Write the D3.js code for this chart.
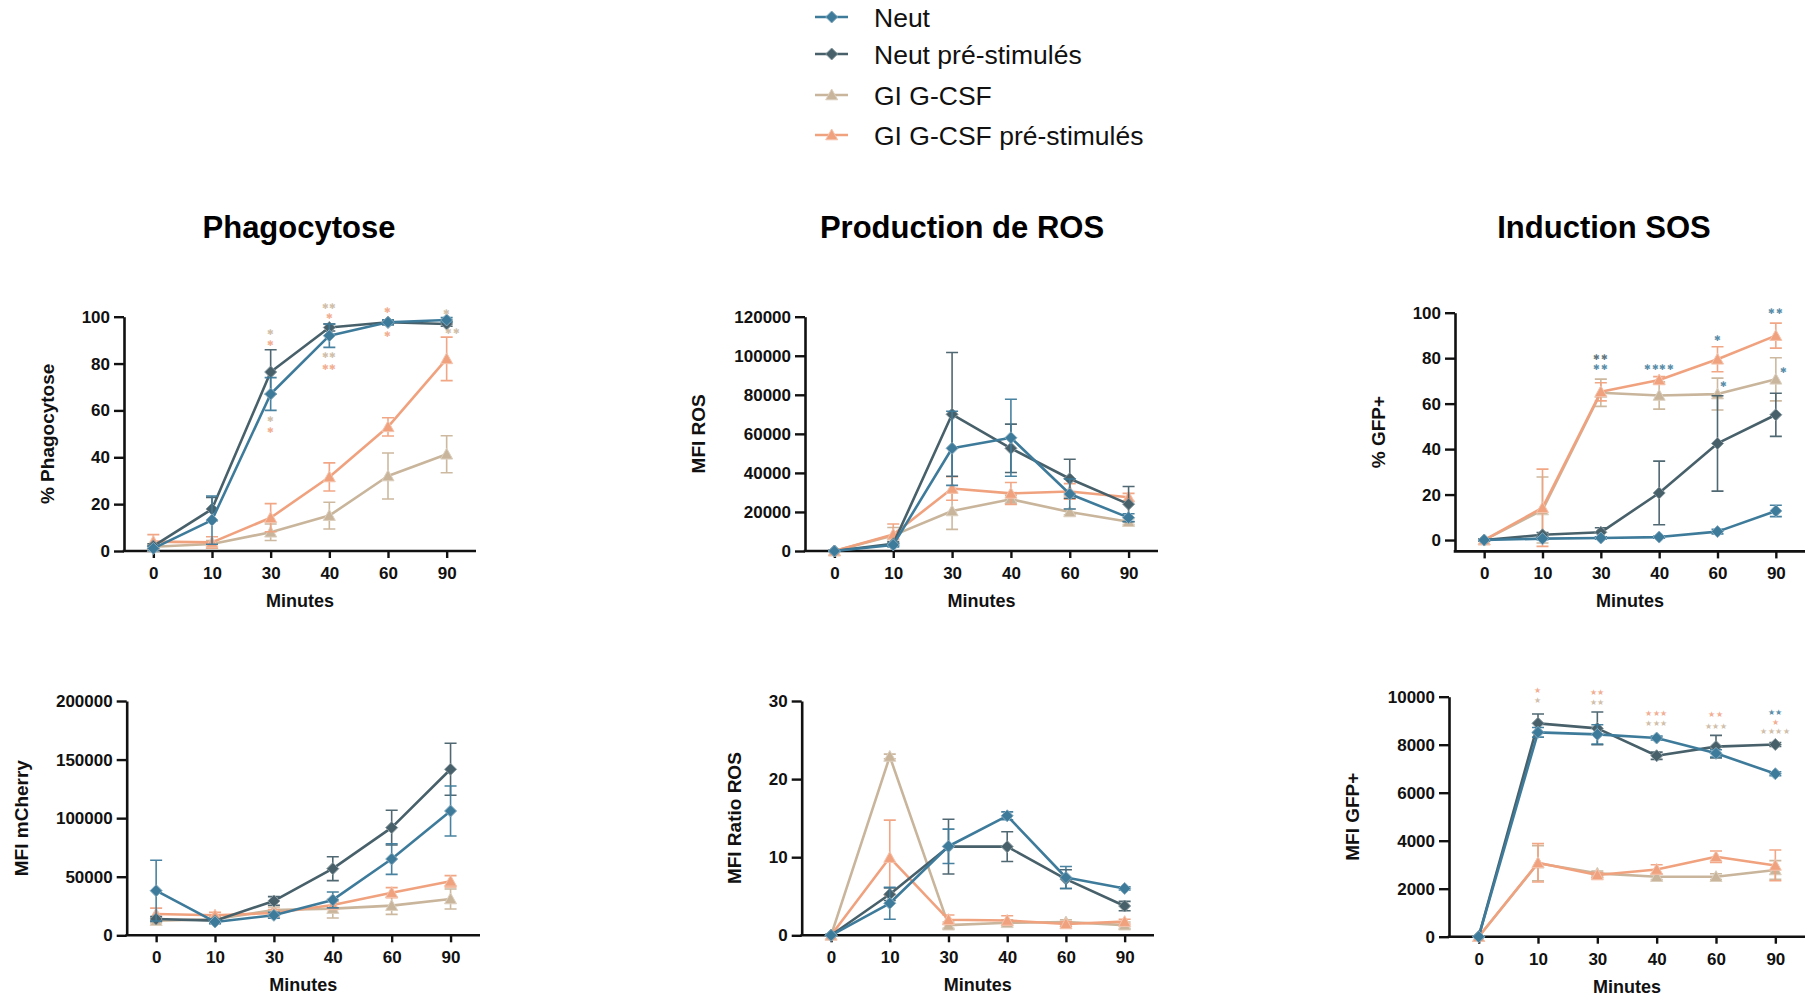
<!DOCTYPE html>
<html><head><meta charset="utf-8">
<script src="https://cdn.jsdelivr.net/npm/d3@7/dist/d3.min.js"></script>
<style>
body{margin:0;background:#fff}
text{font-family:"Liberation Sans",Arial,Helvetica,sans-serif}
</style>
</head><body>
<svg id="chart" width="1805" height="1000"></svg>
<script>
// ---------- DATA ----------
const categories = ["0","10","30","40","60","90"];
const seriesNames = ["Neut","Neut pré-stimulés","GI G-CSF","GI G-CSF pré-stimulés"];
const seriesColors = ["#3e7b9b","#47606a","#c9b59b","#f0a27f"];
const seriesShapes = ["diamond","diamond","triangle","triangle"];
const drawOrder = [2,3,1,0];

// Phagocytose (%)
const phagoMean = [
  [1.1,13.2,67,91.9,97.6,98.6],
  [2.1,17.9,76.4,95.4,97.6,96.9],
  [1.8,3,8,15.1,32,41.3],
  [4,3.7,14.2,31.6,53,82]];
const phagoSD = [
  [1,10.3,7,5,1,1],
  [1,5,9.5,1.5,1,1],
  [1,1.5,3.5,5.7,9.8,7.9],
  [3,2.4,6,6,3.9,9.3]];
const phagoTicks = [0,20,40,60,80,100];
const phagoStars = [
  {cat:"30",v:93.2,t:"✱",s:2},{cat:"30",v:88.6,t:"✱",s:3},
  {cat:"30",v:56.2,t:"✱",s:2},{cat:"30",v:51.4,t:"✱",s:3},
  {cat:"40",v:104.4,t:"✱✱",s:2},{cat:"40",v:100,t:"✱",s:3},
  {cat:"40",v:83.4,t:"✱✱",s:2},{cat:"40",v:78.2,t:"✱✱",s:3},
  {cat:"60",v:102.6,t:"✱",s:3},{cat:"60",v:92.2,t:"✱",s:3},
  {cat:"90",v:101.7,t:"✱",s:2},{cat:"90",v:93.6,t:"✱✱",s:2,dx:6}];

// Production de ROS (MFI ROS)
const rosMean = [
  [0,3100,52600,58000,29200,17100],
  [0,3700,70000,52600,37000,24000],
  [0,8000,20500,26500,20000,15000],
  [0,8500,32000,29500,30500,27500]];
const rosSD = [
  [300,1000,19000,19700,7700,2000],
  [300,1000,31700,12400,10000,9000],
  [500,4000,9400,2000,1500,1500],
  [500,5300,6000,5600,4000,2000]];
const rosTicks = [0,20000,40000,60000,80000,100000,120000];

// Induction SOS (% GFP+)
const gfpPctMean = [
  [0,0.6,0.9,1.3,3.7,12.8],
  [0,2.3,3.4,20.7,42.5,55.1],
  [0,13.2,64.8,63.6,64.2,70.7],
  [0,14.2,65.2,70.4,79.5,89.9]];
const gfpPctSD = [
  [0.3,0.5,0.5,0.5,1,2.5],
  [0.3,1,2,14,21,9.5],
  [0.5,14.5,6,6,7,9.5],
  [0.5,17,4,1.5,5.5,5.5]];
const gfpPctTicks = [0,20,40,60,80,100];
const gfpPctStars = [
  {cat:"30",v:80.2,t:"✱✱",s:1},{cat:"30",v:76,t:"✱✱",s:0},
  {cat:"40",v:76,t:"✱✱✱✱",s:0},
  {cat:"60",v:88.7,t:"✱",s:0},{cat:"60",v:68.2,t:"✱",s:0,dx:6},
  {cat:"90",v:100.4,t:"✱✱",s:0},{cat:"90",v:74.5,t:"✱",s:0,dx:8}];

// MFI mCherry
const cherryMean = [
  [38100,11400,17100,30200,65100,106100],
  [13900,12500,29300,56900,91900,141700],
  [12500,13700,21600,22800,25300,31000],
  [18200,17100,19000,25900,36400,46100]];
const cherrySD = [
  [25900,1500,2500,6800,13100,21300],
  [2000,1500,3700,10200,14800,22200],
  [2000,2000,2500,8000,7400,8500],
  [5000,2500,3000,3000,4300,4800]];
const cherryTicks = [0,50000,100000,150000,200000];

// MFI Ratio ROS
const ratioMean = [
  [0,4.1,11.4,15.3,7.4,6.0],
  [0,5.25,11.35,11.35,7.2,3.75],
  [0,22.9,1.3,1.6,1.7,1.3],
  [0,9.95,2.0,1.9,1.45,1.75]];
const ratioSD = [
  [0.1,2.05,2.2,0.5,1.4,0.2],
  [0.1,0.8,3.5,1.9,1.2,0.6],
  [0.1,0.3,0.4,0.4,0.3,0.4],
  [0.1,4.8,0.6,0.6,0.3,0.3]];
const ratioTicks = [0,10,20,30];

// MFI GFP+
const gfpMfiMean = [
  [0,8514,8430,8278,7640,6790],
  [0,8890,8680,7540,7920,8010],
  [0,3060,2640,2500,2500,2780],
  [0,3080,2570,2800,3330,2970]];
const gfpMfiSD = [
  [20,200,400,80,150,80],
  [20,390,680,150,470,80],
  [20,730,100,120,120,390],
  [20,800,100,200,240,640]];
const gfpMfiTicks = [0,2000,4000,6000,8000,10000];
const gfpMfiStars = [
  {cat:"10",v:10250,t:"★",s:3},{cat:"10",v:9830,t:"★",s:2},
  {cat:"30",v:10180,t:"★★",s:3},{cat:"30",v:9760,t:"★★",s:2},
  {cat:"40",v:9280,t:"★★★",s:3},{cat:"40",v:8870,t:"★★★",s:2},
  {cat:"60",v:9264,t:"★★",s:3},{cat:"60",v:8778,t:"★★★",s:2},
  {cat:"90",v:9330,t:"★★",s:0},{cat:"90",v:8930,t:"★",s:3},{cat:"90",v:8530,t:"★★★★",s:2}];

const titles = ["Phagocytose","Production de ROS","Induction SOS"];
const xLabel = "Minutes";

// ---------- LAYOUT ----------
const panels = [
  {mean:phagoMean, sd:phagoSD, ticks:phagoTicks, dom:[0,100], left:124, right:476, bottom:551, top:316.7, ylabel:"% Phagocytose", ylx:-77, stars:phagoStars, title:titles[0], titleX:299},
  {mean:rosMean, sd:rosSD, ticks:rosTicks, dom:[0,120000], left:805, right:1158, bottom:551, top:316.7, ylabel:"MFI ROS", ylx:-107, title:titles[1], titleX:962},
  {mean:gfpPctMean, sd:gfpPctSD, ticks:gfpPctTicks, dom:[-5,100], left:1455, right:1805, bottom:551.4, top:312.7, ylabel:"% GFP+", ylx:-77, stars:gfpPctStars, title:titles[2], titleX:1604},
  {mean:cherryMean, sd:cherrySD, ticks:cherryTicks, dom:[0,200000], left:126.7, right:480, bottom:935.3, top:701, ylabel:"MFI mCherry", ylx:-105},
  {mean:ratioMean, sd:ratioSD, ticks:ratioTicks, dom:[0,30], left:801.7, right:1154, bottom:935.3, top:701, ylabel:"MFI Ratio ROS", ylx:-67},
  {mean:gfpMfiMean, sd:gfpMfiSD, ticks:gfpMfiTicks, dom:[0,10000], left:1449, right:1805, bottom:936.7, top:696.7, ylabel:"MFI GFP+", ylx:-97, stars:gfpMfiStars}
];

const svg = d3.select("#chart");

function markerPath(shape){
  return shape==="diamond" ? "M0,-6L6,0L0,6L-6,0Z" : "M0,-6L6,4.8L-6,4.8Z";
}
function lighter(c){ return d3.interpolateRgb(c,"#ffffff")(0.35); }

panels.forEach(p=>{
  const g = svg.append("g");
  const x = d3.scalePoint().domain(categories).range([p.left,p.right]).padding(0.5);
  const y = d3.scaleLinear().domain(p.dom).range([p.bottom,p.top]);

  const yAx = g.append("g").attr("transform",`translate(${p.left},0)`)
    .call(d3.axisLeft(y).tickValues(p.ticks).tickFormat(d3.format("d")).tickSize(10).tickSizeOuter(0).tickPadding(4));
  const xAx = g.append("g").attr("transform",`translate(0,${p.bottom})`)
    .call(d3.axisBottom(x).tickSize(7).tickSizeOuter(0).tickPadding(9));
  [yAx,xAx].forEach(a=>{
    a.select(".domain").attr("stroke","#111").attr("stroke-width",2.6);
    a.selectAll(".tick line").attr("stroke","#111").attr("stroke-width",2.4);
    a.selectAll(".tick text").attr("fill","#111").attr("font-size",17).attr("font-weight","bold")
      .attr("font-family","'Liberation Sans',Arial,sans-serif");
  });
  xAx.select(".domain").attr("d",`M${p.left-1.3},0H${p.right}`);

  g.append("text").attr("x",(p.left+p.right)/2).attr("y",p.bottom+56)
    .attr("text-anchor","middle").attr("font-size",18).attr("font-weight","bold").attr("fill","#111").text(xLabel);
  const cy = (p.top+p.bottom)/2;
  g.append("text").attr("transform",`translate(${p.left+p.ylx},${cy}) rotate(-90)`)
    .attr("text-anchor","middle").attr("dominant-baseline","central")
    .attr("font-size",19).attr("font-weight","bold").attr("fill","#111").text(p.ylabel);

  if(p.title){
    g.append("text").attr("x",p.titleX).attr("y",238)
      .attr("text-anchor","middle").attr("font-size",31).attr("font-weight","bold").attr("fill","#000").text(p.title);
  }

  const line = d3.line().x((d,i)=>x(categories[i])).y(d=>y(d));

  drawOrder.forEach(si=>{
    const col = seriesColors[si];
    const sg = g.append("g");
    p.mean[si].forEach((m,i)=>{
      const sd = p.sd[si][i];
      const cx = x(categories[i]);
      const y1 = y(m+sd), y0 = y(Math.max(m-sd, p.dom[0]));
      sg.append("path").attr("d",`M${cx},${y0}V${y1}M${cx-6},${y1}H${cx+6}M${cx-6},${y0}H${cx+6}`)
        .attr("stroke",col).attr("stroke-width",1.6).attr("fill","none").attr("opacity",0.95);
    });
    sg.append("path").datum(p.mean[si]).attr("d",line)
      .attr("fill","none").attr("stroke",col).attr("stroke-width",2.6).attr("stroke-linejoin","round");
    sg.selectAll("path.m").data(p.mean[si]).enter().append("path").attr("class","m")
      .attr("d",markerPath(seriesShapes[si]))
      .attr("transform",(d,i)=>`translate(${x(categories[i])},${y(d)})`)
      .attr("fill",col).attr("stroke",lighter(col)).attr("stroke-width",1);
  });

  // significance stars
  if(p.stars){
    p.stars.forEach(st=>{
      g.append("text").attr("x",x(st.cat)+(st.dx||0)).attr("y",y(st.v))
        .attr("text-anchor","middle").attr("dominant-baseline","central")
        .attr("font-family","'DejaVu Sans',sans-serif").attr("font-size",8.2)
        .attr("letter-spacing","0.6px").attr("fill",seriesColors[st.s]).attr("opacity",0.85).text(st.t);
    });
  }
});

// ---------- LEGEND ----------
const legendRows = [17,54,95,135];
const lg = svg.append("g");
seriesNames.forEach((nm,i)=>{
  const col = seriesColors[i];
  const cy = legendRows[i];
  lg.append("line").attr("x1",815).attr("x2",848).attr("y1",cy).attr("y2",cy).attr("stroke",col).attr("stroke-width",2.6);
  lg.append("path").attr("d",markerPath(seriesShapes[i])).attr("transform",`translate(831.7,${cy})`)
    .attr("fill",col).attr("stroke",lighter(col)).attr("stroke-width",1);
  lg.append("text").attr("x",874).attr("y",cy+9.5).attr("font-size",26.5).attr("fill","#111").text(nm);
});
</script>
</body></html>
